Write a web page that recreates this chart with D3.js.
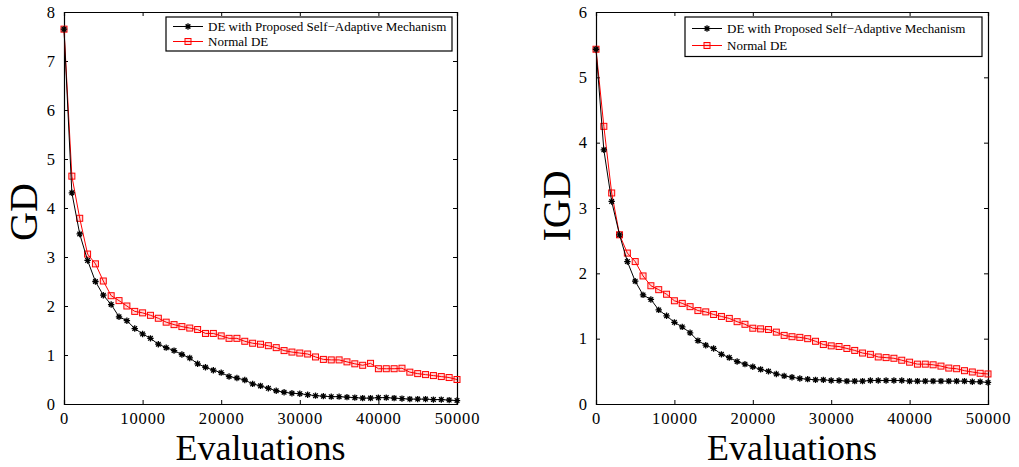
<!DOCTYPE html>
<html>
<head>
<meta charset="utf-8">
<script src="https://cdn.jsdelivr.net/npm/d3@7"></script>
<style>
  html, body { margin: 0; padding: 0; background: #fff; }
  svg { display: block; }
  text { font-family: "Liberation Serif", "Times New Roman", serif; fill: #000; }
</style>
</head>
<body>
<svg id="chart" width="1019" height="467"></svg>
<script>
// Evaluation counts: one sample every 1000 evaluations
const evaluations = d3.range(0, 50001, 1000);

// GD convergence
const gdAdaptive = [7.65, 4.31, 3.47, 2.93, 2.50, 2.22, 2.03, 1.78, 1.70, 1.54,
  1.43, 1.34, 1.22, 1.15, 1.09, 1.01, 0.94, 0.82, 0.75, 0.69,
  0.64, 0.56, 0.53, 0.49, 0.41, 0.37, 0.32, 0.27, 0.24, 0.22,
  0.21, 0.19, 0.17, 0.16, 0.15, 0.15, 0.14, 0.13, 0.12, 0.12,
  0.13, 0.13, 0.12, 0.11, 0.10, 0.10, 0.10, 0.09, 0.09, 0.08, 0.07];
const gdNormal = [7.65, 4.65, 3.79, 3.06, 2.86, 2.51, 2.21, 2.11, 2.00, 1.89,
  1.86, 1.81, 1.75, 1.67, 1.62, 1.58, 1.55, 1.52, 1.44, 1.44,
  1.39, 1.34, 1.34, 1.28, 1.24, 1.22, 1.19, 1.15, 1.09, 1.06,
  1.04, 1.02, 0.96, 0.91, 0.90, 0.90, 0.86, 0.82, 0.79, 0.83,
  0.72, 0.72, 0.72, 0.73, 0.65, 0.62, 0.60, 0.58, 0.56, 0.54, 0.50];

// IGD convergence
const igdAdaptive = [5.43, 3.89, 3.10, 2.59, 2.18, 1.88, 1.67, 1.60, 1.44, 1.35,
  1.25, 1.18, 1.09, 0.97, 0.90, 0.85, 0.76, 0.71, 0.65, 0.61,
  0.57, 0.53, 0.50, 0.46, 0.43, 0.41, 0.39, 0.38, 0.37, 0.37,
  0.36, 0.36, 0.35, 0.35, 0.35, 0.36, 0.36, 0.36, 0.36, 0.36,
  0.35, 0.35, 0.35, 0.35, 0.35, 0.35, 0.35, 0.35, 0.34, 0.34, 0.33];
const igdNormal = [5.43, 4.25, 3.23, 2.59, 2.31, 2.18, 1.96, 1.81, 1.75, 1.68,
  1.58, 1.54, 1.49, 1.43, 1.41, 1.37, 1.34, 1.31, 1.26, 1.22,
  1.16, 1.15, 1.14, 1.10, 1.05, 1.03, 1.02, 1.00, 0.96, 0.91,
  0.89, 0.88, 0.85, 0.82, 0.78, 0.76, 0.72, 0.71, 0.70, 0.67,
  0.64, 0.61, 0.61, 0.60, 0.58, 0.55, 0.54, 0.51, 0.49, 0.47, 0.46];

const xTicks = [0, 10000, 20000, 30000, 40000, 50000];
const gdTicks = [0, 1, 2, 3, 4, 5, 6, 7, 8];
const igdTicks = [0, 1, 2, 3, 4, 5, 6];
const seriesNames = ["DE with Proposed Self\u2212Adaptive Mechanism", "Normal DE"];
const seriesColors = ["#000000", "#ff0000"];

const serif = "\"Liberation Serif\", \"Times New Roman\", serif";
const svg = d3.select("#chart");

// Asterisk marker: plus and cross overlaid
function asterisk(r) {
  const d = r * 0.72;
  return `M${-r},0L${r},0M0,${-r}L0,${r}M${-d},${-d}L${d},${d}M${-d},${d}L${d},${-d}`;
}

function drawMarker(g, kind, color) {
  if (kind === 0) {
    g.append("path").attr("d", asterisk(3.2))
      .attr("stroke", color).attr("stroke-width", 1.3).attr("fill", "none");
  } else {
    g.append("rect").attr("x", -3).attr("y", -3).attr("width", 6).attr("height", 6)
      .attr("stroke", color).attr("stroke-width", 1).attr("fill", "rgba(255,0,0,0.15)");
  }
}

function drawPanel(p) {
  const x = d3.scaleLinear().domain([0, 50000]).range([p.left, p.right]);
  const y = d3.scaleLinear().domain([0, p.yMax]).range([p.bottom, p.top]);
  const g = svg.append("g");

  // Axes with inward ticks on all four sides
  const tick = 4;
  const bottomAxis = d3.axisBottom(x).tickValues(xTicks).tickSize(-tick).tickPadding(8)
    .tickFormat(d3.format("d"));
  const topAxis = d3.axisTop(x).tickValues(xTicks).tickSize(-tick).tickFormat("");
  const leftAxis = d3.axisLeft(y).tickValues(p.yTicks).tickSize(-tick).tickPadding(9)
    .tickFormat(d3.format("d"));
  const rightAxis = d3.axisRight(y).tickValues(p.yTicks).tickSize(-tick).tickFormat("");

  const axes = [
    g.append("g").attr("transform", `translate(0,${p.bottom})`).call(bottomAxis),
    g.append("g").attr("transform", `translate(0,${p.top})`).call(topAxis),
    g.append("g").attr("transform", `translate(${p.left},0)`).call(leftAxis),
    g.append("g").attr("transform", `translate(${p.right},0)`).call(rightAxis)
  ];
  axes.forEach(a => {
    a.attr("font-family", serif);
    a.select(".domain").attr("stroke", "#000").attr("stroke-width", 1.2);
    a.selectAll(".tick line").attr("stroke", "#000").attr("stroke-width", 1);
    a.selectAll(".tick text").attr("font-size", 16.5)
      .attr("font-family", serif).attr("fill", "#000");
  });
  axes[0].selectAll(".tick text").attr("letter-spacing", 0.9);

  // Series: normal DE underneath, adaptive DE on top
  const line = d3.line().x((d, i) => x(evaluations[i])).y(d => y(d));
  [1, 0].forEach(k => {
    const vals = p.series[k];
    g.append("path").datum(vals).attr("d", line)
      .attr("fill", "none").attr("stroke", seriesColors[k]).attr("stroke-width", 1);
    vals.forEach((v, i) => {
      const m = g.append("g").attr("transform", `translate(${x(evaluations[i])},${y(v)})`);
      drawMarker(m, k, seriesColors[k]);
    });
  });

  // Axis titles
  g.append("text").attr("x", (p.left + p.right) / 2).attr("y", 460)
    .attr("text-anchor", "middle").attr("font-size", 36).text("Evaluations");
  g.append("text")
    .attr("transform", `translate(${p.yLabelX},${p.yLabelY}) rotate(-90)`)
    .attr("text-anchor", "middle").attr("font-size", 40).text(p.yLabel);

  // Legend
  const lg = g.append("g").attr("transform", `translate(${p.legX},${p.legY})`);
  lg.append("rect").attr("x", 0).attr("y", 0).attr("width", p.legW).attr("height", p.legH)
    .attr("fill", "#fff").attr("stroke", "#000").attr("stroke-width", 1.2);
  seriesNames.forEach((name, k) => {
    const ry = p.legRows[k];
    lg.append("line").attr("x1", 7).attr("x2", 37).attr("y1", ry).attr("y2", ry)
      .attr("stroke", seriesColors[k]).attr("stroke-width", 1);
    const m = lg.append("g").attr("transform", `translate(22,${ry})`);
    drawMarker(m, k, seriesColors[k]);
    lg.append("text").attr("x", 42).attr("y", ry).attr("dy", "0.35em")
      .attr("font-size", 13).text(name);
  });
}

drawPanel({
  left: 64, right: 457, top: 12, bottom: 404, yMax: 8, yTicks: gdTicks,
  series: [gdAdaptive, gdNormal], yLabel: "GD", yLabelX: 37, yLabelY: 212,
  legX: 166, legY: 17, legW: 286, legH: 34, legRows: [9.5, 24.5]
});
drawPanel({
  left: 596, right: 988, top: 12, bottom: 404, yMax: 6, yTicks: igdTicks,
  series: [igdAdaptive, igdNormal], yLabel: "IGD", yLabelX: 570, yLabelY: 206,
  legX: 685, legY: 17, legW: 297, legH: 39.5, legRows: [11.5, 28.5]
});
</script>
</body>
</html>
